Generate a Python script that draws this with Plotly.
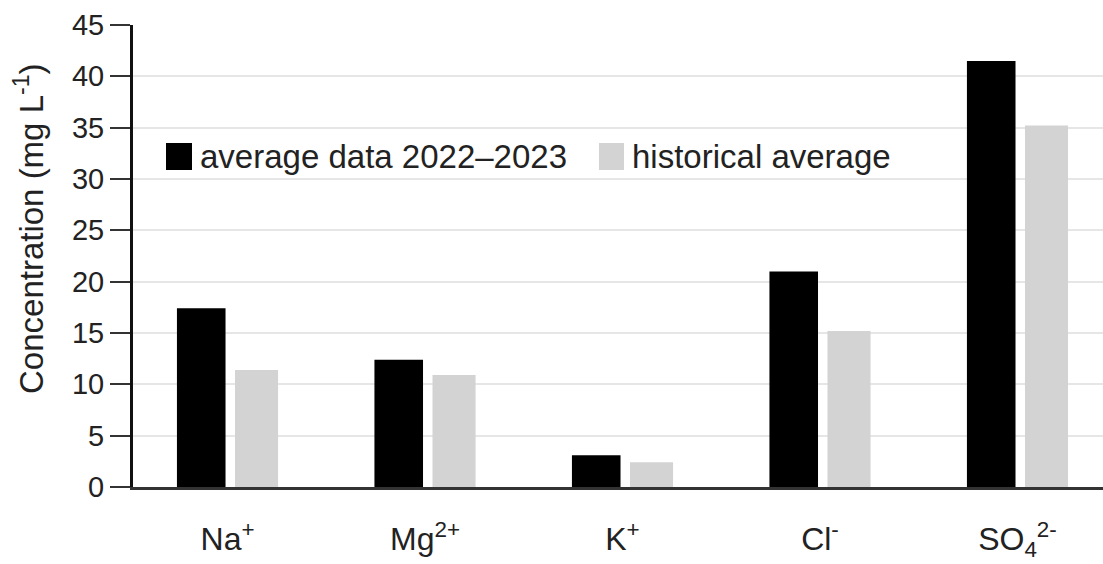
import plotly.graph_objects as go

# Ion concentrations (mg L-1)
ions = ["Na<sup>+</sup>", "Mg<sup>2+</sup>", "K<sup>+</sup>", "Cl<sup>-</sup>",
        "SO<sub>4</sub><sup>2-</sup>"]
recent_avg = [17.4, 12.4, 3.1, 21.0, 41.5]      # average data 2022–2023
historical_avg = [11.4, 10.9, 2.4, 15.2, 35.2]  # historical average
y_ticks = [0, 5, 10, 15, 20, 25, 30, 35, 40, 45]

positions = list(range(len(ions)))
FONT = "Liberation Sans, Arial, Helvetica, sans-serif"
TEXT = "#222222"

W, H = 1103, 564
L, R, T, B = 133, 0, 25, 77
plot_w, plot_h = W - L - R, H - T - B


def px_x(p):
    return (p - L) / plot_w


def px_y(p):
    return (H - B - p) / plot_h


fig = go.Figure()
fig.add_trace(go.Bar(
    x=positions, y=recent_avg, name="average data 2022–2023",
    marker=dict(color="#000000", line=dict(width=0)),
    offset=-0.256, width=0.246, showlegend=False,
))
fig.add_trace(go.Bar(
    x=positions, y=historical_avg, name="historical average",
    marker=dict(color="#d3d3d3", line=dict(width=0)),
    offset=0.038, width=0.218, showlegend=False,
))

# legend drawn as swatches + labels
legend_items = [
    ("#000000", 166, 192, "average data 2022–2023", 198),
    ("#d3d3d3", 599, 624, "historical average", 630),
]
for color, x0, x1, label, tx in legend_items:
    fig.add_shape(type="rect", xref="paper", yref="paper",
                  x0=px_x(x0), x1=px_x(x1), y0=px_y(170), y1=px_y(143),
                  fillcolor=color, line=dict(width=0), layer="above")
    fig.add_annotation(xref="paper", yref="paper", x=px_x(tx), y=px_y(156),
                       xanchor="left", yanchor="middle", showarrow=False,
                       text=label, font=dict(family=FONT, size=33, color=TEXT))

# y-axis title
fig.add_annotation(xref="paper", yref="paper", x=px_x(29), y=px_y(229),
                   xanchor="center", yanchor="middle", showarrow=False,
                   textangle=-90, text="Concentration (mg L<sup>-1</sup>)",
                   font=dict(family=FONT, size=33, color=TEXT))

fig.update_layout(
    width=W, height=H,
    margin=dict(l=L, r=R, t=T, b=B, pad=0, autoexpand=False),
    paper_bgcolor="white", plot_bgcolor="white",
    barmode="overlay",
    font=dict(family=FONT, color=TEXT),
    xaxis=dict(
        range=[-0.4785, 4.433], automargin=False,
        tickmode="array", tickvals=positions, ticktext=ions,
        tickfont=dict(family=FONT, size=32, color=TEXT),
        ticks="", showgrid=False, zeroline=False,
        showline=True, linecolor="#333333", linewidth=3,
        ticklabelstandoff=22,
    ),
    yaxis=dict(
        range=[0, 45], automargin=False,
        tickmode="array", tickvals=y_ticks,
        tickfont=dict(family=FONT, size=29, color=TEXT),
        ticks="outside", ticklen=20, tickwidth=2, tickcolor="#333333",
        showgrid=True, gridcolor="#e6e6e6", gridwidth=2,
        zeroline=False,
        showline=True, linecolor="#111111", linewidth=3,
    ),
)

fig.write_html("out.html")
